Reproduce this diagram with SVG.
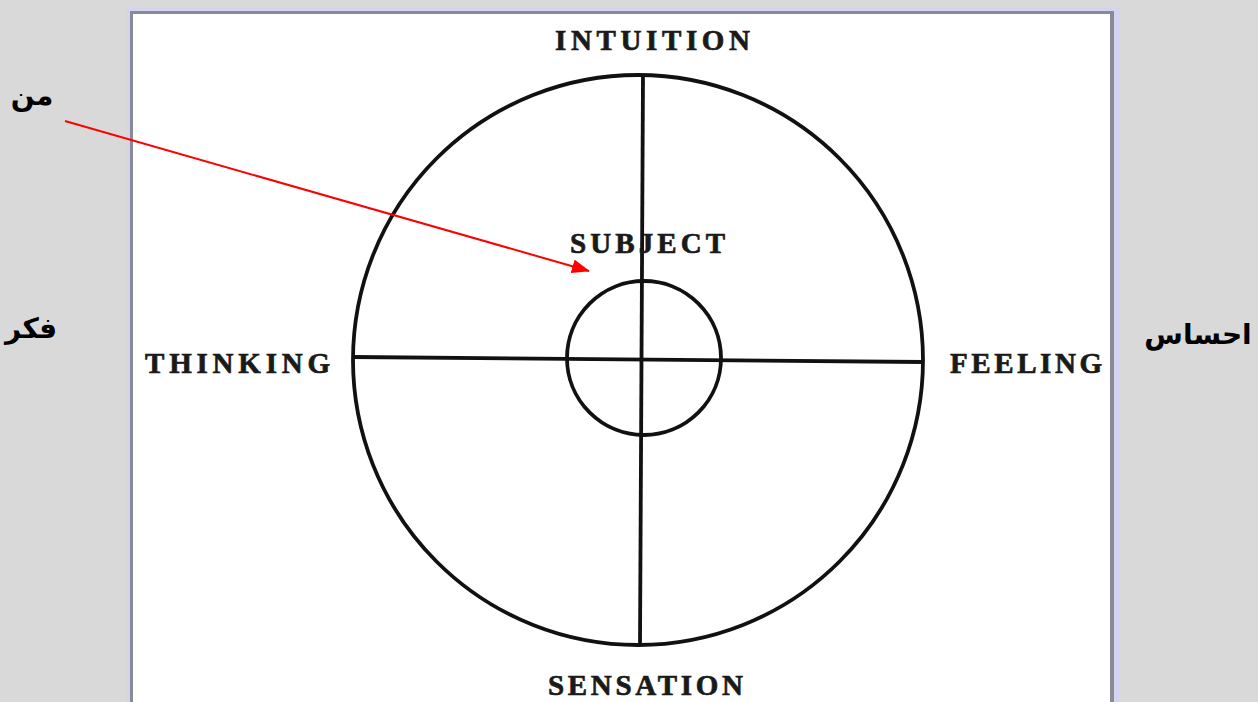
<svg xmlns="http://www.w3.org/2000/svg" width="1258" height="702" viewBox="0 0 1258 702">
<style>
.lbl{font-family:"Liberation Serif","DejaVu Serif",serif;font-weight:bold;font-size:29px;fill:#1a1a1a;stroke:#1a1a1a;stroke-width:0.7;}
.fa{font-family:"DejaVu Sans","Noto Sans",sans-serif;font-weight:bold;font-size:28px;fill:#000;}
.ln{stroke:#111;stroke-width:3.8;fill:none;}
</style>
<defs>
<marker id="ah2" markerWidth="18" markerHeight="14" refX="17" refY="7" orient="auto" markerUnits="userSpaceOnUse" viewBox="0 0 18 14">
<path d="M0,0 L18,7 L0,14 Z" fill="#ff0000"/>
</marker>
</defs>
<rect width="1258" height="702" fill="#d9d9d9"/>
<g id="frame">
<rect x="127" y="8" width="993" height="710" fill="#d4d4f2"/>
<rect x="130" y="11" width="984" height="705" fill="#8a8a94"/>
<rect x="133" y="14" width="977" height="700" fill="#ffffff"/>
</g>
<g id="wheel">
<circle cx="638" cy="360" r="285" class="ln"/>
<circle cx="644" cy="358" r="77" class="ln"/>
<line x1="643" y1="76" x2="640" y2="645" class="ln"/>
<line x1="353" y1="357" x2="923" y2="362" class="ln"/>
</g>
<g id="intuition"><text class="lbl" x="555" y="50" textLength="195" lengthAdjust="spacing">INTUITION</text></g>
<g id="subject"><text class="lbl" x="570" y="253" textLength="155" lengthAdjust="spacing">SUBJECT</text></g>
<g id="thinking"><text class="lbl" x="145" y="373" textLength="185" lengthAdjust="spacing">THINKING</text></g>
<g id="feeling"><text class="lbl" x="950" y="373" textLength="152" lengthAdjust="spacing">FEELING</text></g>
<g id="sensation"><text class="lbl" x="548" y="695" textLength="195" lengthAdjust="spacing">SENSATION</text></g>
<g id="man"><text class="fa" x="32" y="105" text-anchor="middle" direction="rtl">من</text></g>
<g id="fekr"><text class="fa" x="31" y="338" text-anchor="middle" direction="rtl">فکر</text></g>
<g id="ehsas"><text class="fa" x="1198" y="344" text-anchor="middle" direction="rtl">احساس</text></g>
<g id="connectors">
<line x1="65" y1="121" x2="589" y2="271" stroke="#ff0000" stroke-width="2" marker-end="url(#ah2)"/>
</g>
</svg>
